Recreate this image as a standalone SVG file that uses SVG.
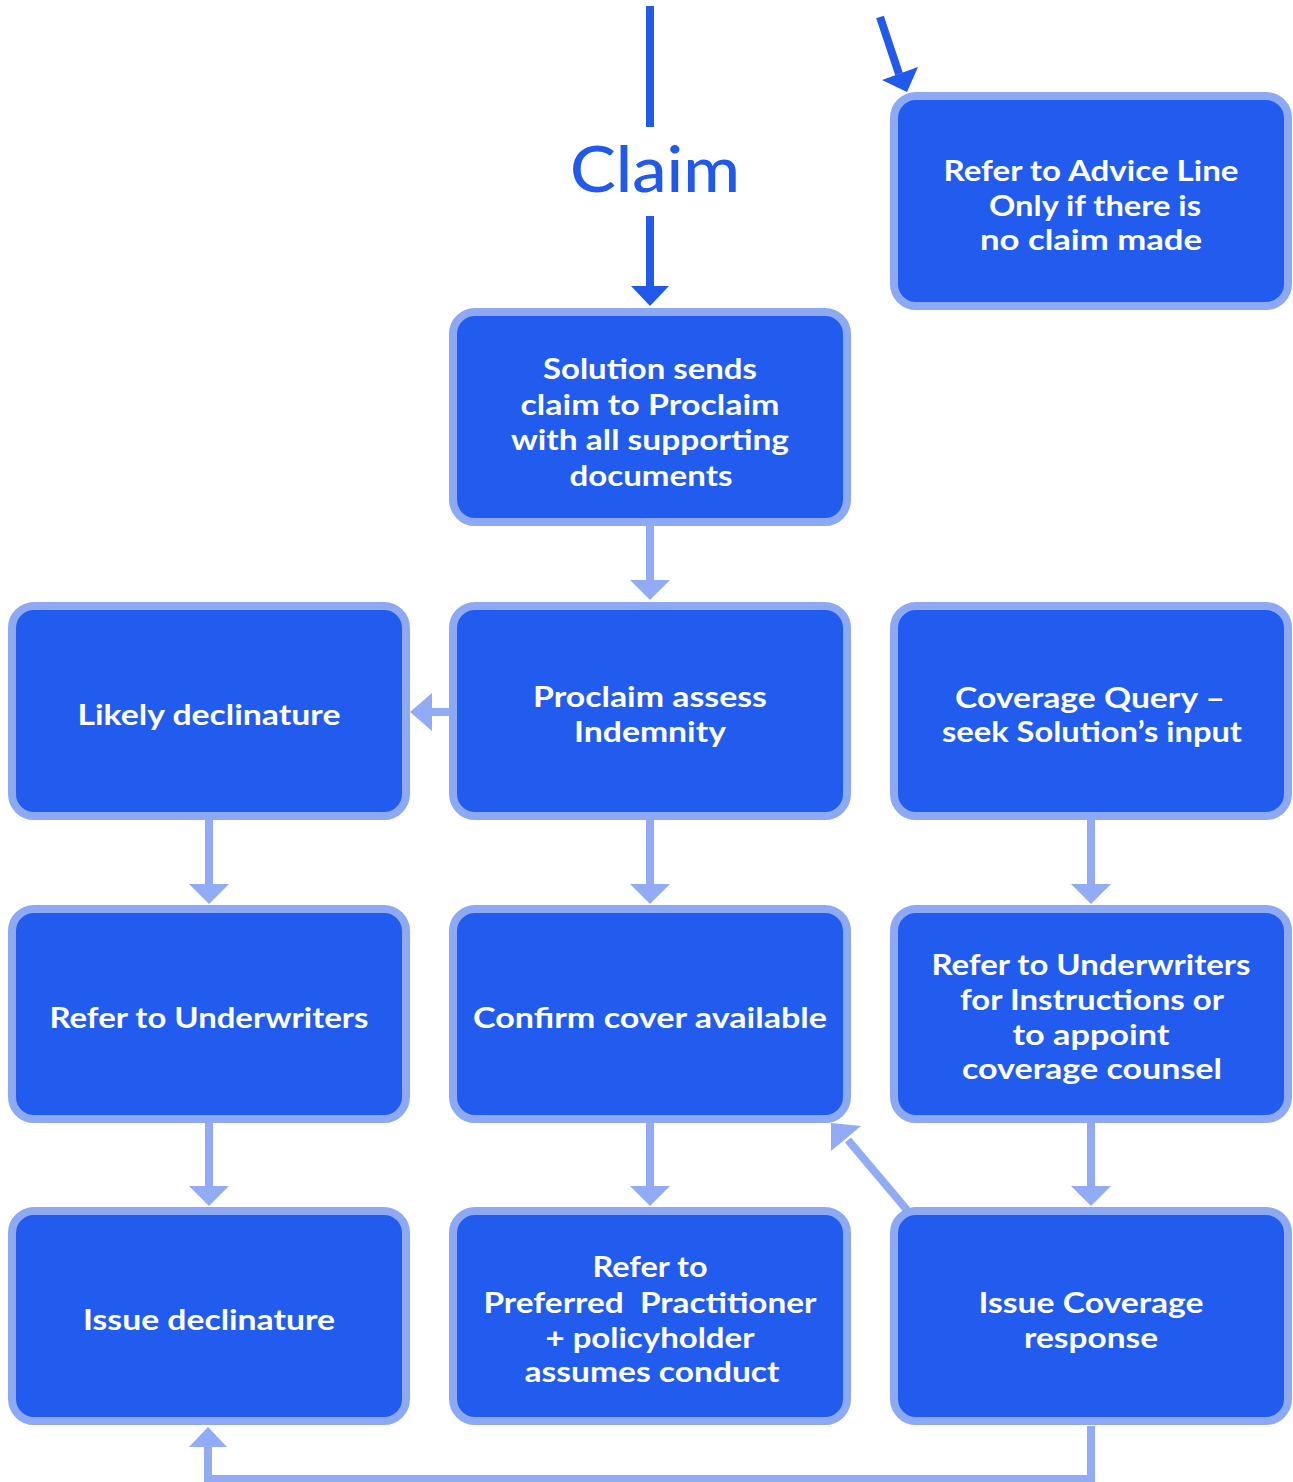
<svg xmlns="http://www.w3.org/2000/svg" width="1293" height="1482" viewBox="0 0 1293 1482">
<style>
.box{fill:#225CEE;stroke:#8EA9F4;stroke-width:8}
.t{fill:#FFFFFF;font-family:Lato,"Liberation Sans",sans-serif;font-weight:700;font-size:29px;text-anchor:middle;white-space:pre}
.lc{stroke:#91ABF5;stroke-width:8;fill:none}
.la{fill:#91ABF5}
.dc{stroke:#2159EB;stroke-width:8;fill:none}
.da{fill:#2159EB}
</style>
<rect width="1293" height="1482" fill="#FFFFFF"/>
<g id="connectors">
  <line class="dc" x1="650" y1="6" x2="650" y2="127"/>
  <line class="dc" x1="650" y1="216" x2="650" y2="288"/>
  <polygon class="da" points="631,286 669,286 650,306"/>
  <line class="dc" x1="880" y1="17" x2="899" y2="74"/>
  <polygon class="da" points="882,80 918,67 907,92"/>
  <line class="lc" x1="650" y1="526" x2="650" y2="582"/>
  <polygon class="la" points="630,580 670,580 650,600"/>
  <line class="lc" x1="449" y1="712" x2="430" y2="712"/>
  <polygon class="la" points="432,693 432,731 410,712"/>
  <line class="lc" x1="209" y1="820" x2="209" y2="886"/>
  <polygon class="la" points="189,884 229,884 209,904"/>
  <line class="lc" x1="650" y1="820" x2="650" y2="886"/>
  <polygon class="la" points="630,884 670,884 650,904"/>
  <line class="lc" x1="1091" y1="820" x2="1091" y2="886"/>
  <polygon class="la" points="1071,884 1111,884 1091,904"/>
  <line class="lc" x1="209" y1="1122" x2="209" y2="1188"/>
  <polygon class="la" points="189,1186 229,1186 209,1206"/>
  <line class="lc" x1="650" y1="1122" x2="650" y2="1188"/>
  <polygon class="la" points="630,1186 670,1186 650,1206"/>
  <line class="lc" x1="1091" y1="1122" x2="1091" y2="1188"/>
  <polygon class="la" points="1071,1186 1111,1186 1091,1206"/>
  <line class="lc" x1="907" y1="1210" x2="848" y2="1140"/>
  <polygon class="la" points="861,1126 831,1151 831,1123"/>
  <polyline class="lc" points="1091,1426 1091,1479 208,1479 208,1445"/>
  <polygon class="la" points="189,1447 227,1447 208,1427"/>
</g>
<g id="claim-label">
  <text x="655" y="192" font-family="Lato,'Liberation Sans',sans-serif" font-weight="500" font-size="64" fill="#2159EB" text-anchor="middle" textLength="170" lengthAdjust="spacingAndGlyphs">Claim</text>
</g>
<g id="advice">
  <rect class="box" x="894" y="96" width="394" height="210" rx="22"/>
  <text class="t" x="1091" y="181" textLength="295" lengthAdjust="spacingAndGlyphs">Refer to Advice Line</text>
  <text class="t" x="1095" y="216" textLength="212" lengthAdjust="spacingAndGlyphs">Only if there is</text>
  <text class="t" x="1091" y="250" textLength="222" lengthAdjust="spacingAndGlyphs">no claim made</text>
</g>
<g id="solution">
  <rect class="box" x="453" y="312" width="394" height="210" rx="22"/>
  <text class="t" x="650" y="379" textLength="214" lengthAdjust="spacingAndGlyphs">Solution sends</text>
  <text class="t" x="650" y="415" textLength="259" lengthAdjust="spacingAndGlyphs">claim to Proclaim</text>
  <text class="t" x="650" y="450" textLength="278" lengthAdjust="spacingAndGlyphs">with all supporting</text>
  <text class="t" x="651" y="486" textLength="163" lengthAdjust="spacingAndGlyphs">documents</text>
</g>
<g id="likely">
  <rect class="box" x="12" y="606" width="394" height="210" rx="22"/>
  <text class="t" x="209" y="725" textLength="263" lengthAdjust="spacingAndGlyphs">Likely declinature</text>
</g>
<g id="assess">
  <rect class="box" x="453" y="606" width="394" height="210" rx="22"/>
  <text class="t" x="650" y="707" textLength="234" lengthAdjust="spacingAndGlyphs">Proclaim assess</text>
  <text class="t" x="650" y="742" textLength="152" lengthAdjust="spacingAndGlyphs">Indemnity</text>
</g>
<g id="query">
  <rect class="box" x="894" y="606" width="394" height="210" rx="22"/>
  <text class="t" x="1090" y="708" textLength="270" lengthAdjust="spacingAndGlyphs">Coverage Query –</text>
  <text class="t" x="1092" y="742" textLength="300" lengthAdjust="spacingAndGlyphs">seek Solution’s input</text>
</g>
<g id="refer-uw">
  <rect class="box" x="12" y="909" width="394" height="210" rx="22"/>
  <text class="t" x="209" y="1028" textLength="319" lengthAdjust="spacingAndGlyphs">Refer to Underwriters</text>
</g>
<g id="confirm">
  <rect class="box" x="453" y="909" width="394" height="210" rx="22"/>
  <text class="t" x="650" y="1028" textLength="354" lengthAdjust="spacingAndGlyphs">Confirm cover available</text>
</g>
<g id="refer-uw-counsel">
  <rect class="box" x="894" y="909" width="394" height="210" rx="22"/>
  <text class="t" x="1091" y="975" textLength="319" lengthAdjust="spacingAndGlyphs">Refer to Underwriters</text>
  <text class="t" x="1092" y="1010" textLength="264" lengthAdjust="spacingAndGlyphs">for Instructions or</text>
  <text class="t" x="1091" y="1045" textLength="157" lengthAdjust="spacingAndGlyphs">to appoint</text>
  <text class="t" x="1092" y="1079" textLength="260" lengthAdjust="spacingAndGlyphs">coverage counsel</text>
</g>
<g id="issue-declinature">
  <rect class="box" x="12" y="1211" width="394" height="210" rx="22"/>
  <text class="t" x="209" y="1330" textLength="252" lengthAdjust="spacingAndGlyphs">Issue declinature</text>
</g>
<g id="preferred">
  <rect class="box" x="453" y="1211" width="394" height="210" rx="22"/>
  <text class="t" x="650" y="1277" textLength="115" lengthAdjust="spacingAndGlyphs">Refer to</text>
  <text class="t" x="650" y="1313" textLength="333" lengthAdjust="spacingAndGlyphs">Preferred  Practitioner</text>
  <text class="t" x="650" y="1348" textLength="209" lengthAdjust="spacingAndGlyphs">+ policyholder</text>
  <text class="t" x="652" y="1382" textLength="255" lengthAdjust="spacingAndGlyphs">assumes conduct</text>
</g>
<g id="issue-coverage">
  <rect class="box" x="894" y="1211" width="394" height="210" rx="22"/>
  <text class="t" x="1091" y="1313" textLength="225" lengthAdjust="spacingAndGlyphs">Issue Coverage</text>
  <text class="t" x="1091" y="1348" textLength="134" lengthAdjust="spacingAndGlyphs">response</text>
</g>
</svg>
